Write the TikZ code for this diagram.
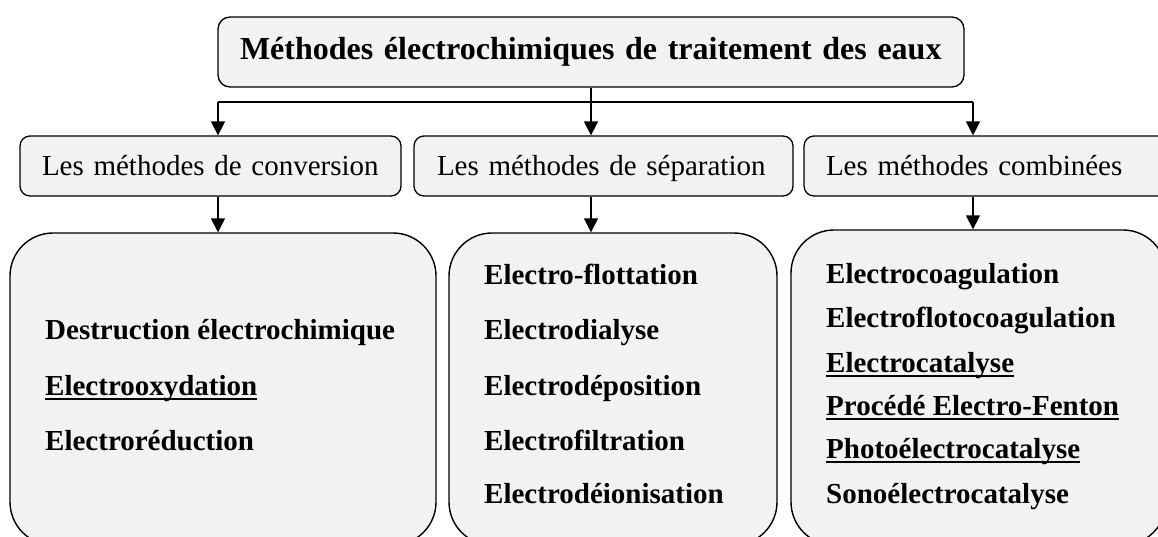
\documentclass[tikz,border=0pt]{standalone}
\usepackage{fontspec}
\setmainfont{Liberation Serif}
\usetikzlibrary{arrows.meta}
\definecolor{boxfill}{RGB}{242,242,242}
\newcommand\myul[1]{\setbox0\hbox{#1}\rlap{\rule[-5pt]{\wd0}{1.8pt}}\box0}
\begin{document}
\begin{tikzpicture}[x=1pt,y=-1pt,
  box/.style={draw, line width=1.3pt, fill=boxfill, rounded corners=#1, inner ysep=0pt},
  titlebox/.style={box=12pt, minimum height=70pt, inner xsep=22pt, text width=702pt, align=left,
     text height=22pt, text depth=7pt, font=\fontsize{32}{38}\selectfont\bfseries},
  midbox/.style={box=10pt, minimum height=60pt, align=left,
     text height=22pt, text depth=4pt, font=\fontsize{29}{35}\selectfont},
  bigbox/.style={draw, line width=1.4pt, fill=boxfill, rounded corners=43pt, inner sep=0pt},
  item/.style={anchor=base west, inner sep=0pt, font=\fontsize{29}{35}\selectfont\bfseries},
  conn/.style={line width=1.6pt},
  arr/.style={line width=1.6pt, -{Triangle[length=14pt,width=14pt]}}]
\useasboundingbox (0,0) rectangle (1158,536);
\clip (0,0) rectangle (1158,536);

% top box
\node[titlebox] (top) at (591,52) {Méthodes électrochimiques de traitement des eaux};

% second level
\node[midbox, inner xsep=22pt, text width=337pt] (m1) at (210.5,166) {Les méthodes de conversion};
\node[midbox, inner xsep=23pt, text width=333pt] (m2) at (603.5,166) {Les méthodes de séparation};
\node[midbox, inner xsep=22pt, text width=324pt] (m3) at (988,166) {Les méthodes combinées};

% bottom boxes
\node[bigbox, minimum width=426pt, minimum height=312pt] (A) at (223,389) {};
\node[bigbox, minimum width=328pt, minimum height=312pt] (B) at (613,389) {};
\node[bigbox, minimum width=375pt, minimum height=315pt] (C) at (978.5,387.5) {};

% items A
\node[item] (a1) at (45,339) {Destruction électrochimique};
\node[item] (a2) at (45,395) {\myul{Electrooxydation}};
\node[item] (a3) at (45,450) {Electroréduction};
% items B
\node[item] (b1) at (484,284) {Electro-flottation};
\node[item] (b2) at (484,339) {Electrodialyse};
\node[item] (b3) at (484,395) {Electrodéposition};
\node[item] (b4) at (484,450) {Electrofiltration};
\node[item] (b5) at (484,503) {Electrodéionisation};
% items C
\node[item] (c1) at (826,283) {Electrocoagulation};
\node[item] (c2) at (826,327) {Electroflotocoagulation};
\node[item] (c3) at (826,372) {\myul{Electrocatalyse}};
\node[item] (c4) at (826,415) {\myul{Procédé Electro-Fenton}};
\node[item] (c5) at (826,458) {\myul{Photoélectrocatalyse}};
\node[item] (c6) at (826,503) {Sonoélectrocatalyse};

% connectors
\coordinate (jl) at (218,102);
\coordinate (jr) at (973,102);
\draw[conn] (jl) -- (jr);
\draw[arr] (top.south) -- (top.south |- m2.north);
\draw[arr] (jl) -- (jl |- m1.north);
\draw[arr] (jr) -- (jr |- m3.north);
\draw[arr] (m1.south -| jl) -- (jl |- A.north);
\draw[arr] (m2.south -| top.south) -- (top.south |- B.north);
\draw[arr] (m3.south -| jr) -- (jr |- C.north);
\end{tikzpicture}
\end{document}
